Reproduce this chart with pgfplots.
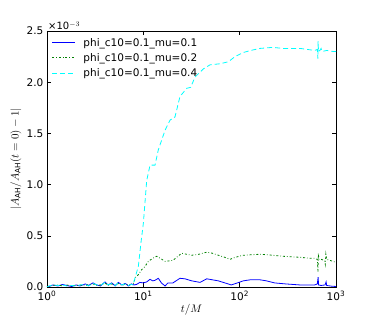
\documentclass[border=0pt]{standalone}
\usepackage{pgfplots}
\pgfplotsset{compat=1.18}
\usepackage{fontspec}
\setmainfont{DejaVu Sans}
\definecolor{mplgreen}{rgb}{0,0.5,0}
\definecolor{mplcyan}{rgb}{0,1,1}
\begin{document}
\fontsize{10.5}{12.5}\selectfont
\begin{tikzpicture}
\begin{axis}[
  scale only axis, width=289pt, height=256pt,
  xmode=log, xmin=1, xmax=1000, ymin=0, ymax=2.5,
  log basis x=10,
  xtick={1,10,100,1000},
  xticklabels={10\textsuperscript{0},10\textsuperscript{1},10\textsuperscript{2},10\textsuperscript{3}},
  ytick={0,0.5,1.0,1.5,2.0,2.5},
  yticklabel style={/pgf/number format/.cd, fixed, fixed zerofill, precision=1, assume math mode=true},
  tick align=inside, tick pos=both,
  major tick length=4.5pt, minor tick length=2.2pt,
  every tick/.style={black, line width=0.5pt},
  axis line style={line width=0.8pt},
  tick label style={font=\fontsize{10.5}{12.5}\selectfont},
  xlabel={$t/M$}, ylabel={$|A_{\rm AH}/A_{\rm AH}(t=0)-1|$},
  xlabel style={yshift=3pt},
  ylabel style={yshift=-2pt},
  legend style={draw=none, fill=none, at={(0.012,0.985)}, anchor=north west, font=\fontsize{10.5}{12.5}\selectfont, row sep=1.5pt, inner sep=1pt},
  legend cell align=left,
  legend image code/.code={\draw[#1] (0pt,0pt) -- (23pt,0pt); \path (29pt,0pt);},
  clip mode=individual,
]
\addplot[blue, line width=0.8pt] coordinates {
(1.0,0.0)(1.05,0.005)(1.15,0.02)(1.3,0.01)(1.45,0.025)(1.6,0.015)(1.8,0.005)(2.0,0.02)(2.2,0.01)(2.5,0.03)(2.7,0.015)(3.0,0.04)(3.3,0.02)(3.6,0.01)(4.0,0.05)(4.3,0.02)(4.7,0.04)(5.1,0.01)(5.5,0.045)(6.0,0.02)(6.5,0.035)(7.0,0.01)(7.5,0.03)(8.0,0.02)
(8.5,0.025)(9.2,0.045)(10,0.04)(10.84,0.05)(11.74,0.075)(12.5,0.06)(13.2,0.065)(14.3,0.085)(15.4,0.04)(16.8,0.01)(18,0.04)(20.3,0.04)(24,0.085)(27,0.08)(31.8,0.06)(38.8,0.045)(45.5,0.08)(60,0.06)(76,0.03)(82,0.02)(95,0.04)(109,0.06)(128,0.07)(163,0.07)(190,0.06)(230,0.04)(300,0.03)(424,0.02)(600,0.02)(640,0.03)(652,0.095)(660,0.02)(700,0.015)(770,0.02)(789,0.05)(800,0.015)(900,0.008)(1000,0.005)
};
\addlegendentry{phi\_c10=0.1\_mu=0.1}
\addplot[mplgreen, line width=0.8pt, dash pattern=on 2pt off 2pt on 0.7pt off 2pt] coordinates {
(1.0,0.0)(1.05,0.01)(1.15,0.015)(1.3,0.02)(1.45,0.01)(1.6,0.02)(1.8,0.01)(2.0,0.015)(2.2,0.02)(2.5,0.01)(2.7,0.025)(3.0,0.03)(3.3,0.015)(3.6,0.02)(4.0,0.04)(4.3,0.015)(4.7,0.03)(5.1,0.02)(5.5,0.035)(6.0,0.015)(6.5,0.03)(7.0,0.02)(7.5,0.025)(8.0,0.04)
(8.2,0.09)(8.87,0.12)(9.62,0.17)(10.4,0.2)(11.27,0.25)(12.5,0.28)(13.77,0.30)(15,0.28)(16.8,0.25)(20.3,0.26)(25,0.33)(28,0.32)(31.8,0.31)(38,0.32)(45.5,0.34)(52,0.33)(60.1,0.31)(70,0.29)(79.4,0.27)(90,0.29)(109,0.31)(163,0.32)(220,0.31)(282,0.30)(424,0.29)(538,0.28)(600,0.28)(640,0.27)(650,0.15)(655,0.33)(665,0.27)(700,0.27)(760,0.26)(775,0.22)(785,0.32)(800,0.27)(933,0.25)(1000,0.24)
};
\addlegendentry{phi\_c10=0.1\_mu=0.2}
\addplot[mplcyan, line width=0.8pt, dash pattern=on 5pt off 3pt] coordinates {
(1.0,0.0)(1.05,0.01)(1.15,0.02)(1.3,0.015)(1.45,0.02)(1.6,0.01)(1.8,0.015)(2.0,0.01)(2.2,0.02)(2.5,0.025)(2.7,0.01)(3.0,0.035)(3.3,0.02)(3.6,0.015)(4.0,0.045)(4.3,0.02)(4.7,0.035)(5.1,0.015)(5.5,0.04)(6.0,0.02)(6.5,0.03)(7.0,0.015)(7.5,0.025)
(7.8,0.02)(8.2,0.09)(8.87,0.2)(9.5,0.45)(10,0.62)(10.84,1.04)(11.74,1.19)(13.23,1.19)(14.31,1.34)(16.8,1.53)(18.93,1.63)(21.3,1.66)(24,1.86)(28.2,1.94)(31,1.95)(34.4,2.05)(42,2.13)(49.3,2.17)(62.6,2.18)(76.3,2.2)(89.6,2.25)(109.2,2.29)(130,2.31)(163,2.33)(220,2.34)(282,2.33)(424,2.33)(600,2.31)(640,2.32)(648,2.23)(652,2.40)(658,2.30)(680,2.31)(700,2.33)(720,2.30)(800,2.31)(933,2.30)(1000,2.30)
};
\addlegendentry{phi\_c10=0.1\_mu=0.4}
\node[anchor=south west, inner sep=0pt, xshift=1pt, yshift=1pt, font=\fontsize{10}{11}\selectfont] at (rel axis cs:0,1) {×10$^{-3}$};
\end{axis}
\pgfresetboundingbox
\path[use as bounding box] (-47pt,-33pt) rectangle (327pt,287pt);
\end{tikzpicture}
\end{document}
